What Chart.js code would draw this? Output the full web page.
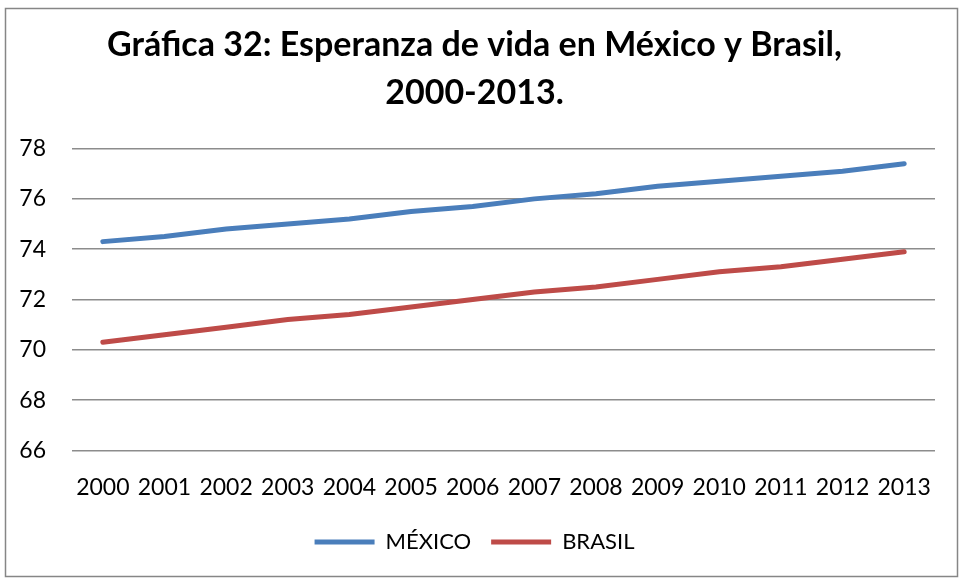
<!DOCTYPE html>
<html>
<head>
<meta charset="utf-8">
<script src="https://cdn.jsdelivr.net/npm/chart.js@4/dist/chart.umd.min.js"></script>
<style>
  html, body { margin: 0; padding: 0; background: #fff; }
  #wrap { width: 963px; height: 581px; }
</style>
</head>
<body>
<div id="wrap"><canvas id="chart" width="963" height="581"></canvas></div>
<script>
const years = ["2000", "2001", "2002", "2003", "2004", "2005", "2006",
               "2007", "2008", "2009", "2010", "2011", "2012", "2013"];
const mexico = [74.3, 74.5, 74.8, 75.0, 75.2, 75.5, 75.7, 76.0, 76.2, 76.5, 76.7, 76.9, 77.1, 77.4];
const brasil = [70.3, 70.6, 70.9, 71.2, 71.4, 71.7, 72.0, 72.3, 72.5, 72.8, 73.1, 73.3, 73.6, 73.9];
const titleLines = ["Gráfica 32: Esperanza de vida en México y Brasil,", "2000-2013."];

const FONT = "Lato, 'Open Sans', sans-serif";

// outer frame like the office chart box
const frame = {
  id: "frame",
  beforeDraw(chart) {
    const ctx = chart.ctx;
    ctx.save();
    ctx.fillStyle = "#fff";
    ctx.fillRect(0, 0, chart.width, chart.height);
    ctx.strokeStyle = "#868686";
    ctx.lineWidth = 1.5;
    ctx.strokeRect(5.5, 8.5, chart.width - 11, chart.height - 13);
    ctx.restore();
  }
};

new Chart(document.getElementById("chart"), {
  type: "line",
  plugins: [frame],
  data: {
    labels: years,
    datasets: [
      {
        label: "MÉXICO",
        data: mexico,
        borderColor: "#4a7ebb",
        backgroundColor: "#4a7ebb",
        borderWidth: 5,
        borderCapStyle: "round",
        pointRadius: 0,
        tension: 0
      },
      {
        label: "BRASIL",
        data: brasil,
        borderColor: "#be4b48",
        backgroundColor: "#be4b48",
        borderWidth: 5,
        borderCapStyle: "round",
        pointRadius: 0,
        tension: 0
      }
    ]
  },
  options: {
    responsive: false,
    animation: false,
    layout: { padding: { left: 14, right: 28, top: 21, bottom: 18 } },
    plugins: {
      title: {
        display: true,
        text: titleLines,
        color: "#000",
        font: { family: FONT, size: 34, weight: "bold", lineHeight: 1.42 },
        padding: { top: 0, bottom: 31 }
      },
      legend: {
        position: "bottom",
        labels: {
          color: "#000",
          font: { family: FONT, size: 22 },
          usePointStyle: true,
          pointStyle: "line",
          pointStyleWidth: 60,
          padding: 20
        }
      },
      tooltip: { enabled: false }
    },
    scales: {
      x: {
        offset: true,
        // pull the legend a bit closer to the year labels
        afterFit(scale) { scale.height = scale.height - 13; },
        grid: { display: false, drawTicks: false },
        border: { display: false },
        ticks: {
          color: "#000",
          font: { family: FONT, size: 23 },
          maxRotation: 0,
          autoSkip: false,
          padding: 23
        }
      },
      y: {
        min: 66,
        max: 78,
        afterFit(scale) { scale.width = 58; },
        ticks: {
          stepSize: 2,
          color: "#000",
          font: { family: FONT, size: 23 },
          padding: 26
        },
        grid: { color: "#8c8c8c", lineWidth: 1.5, drawTicks: false },
        border: { display: false }
      }
    }
  }
});
</script>
</body>
</html>
